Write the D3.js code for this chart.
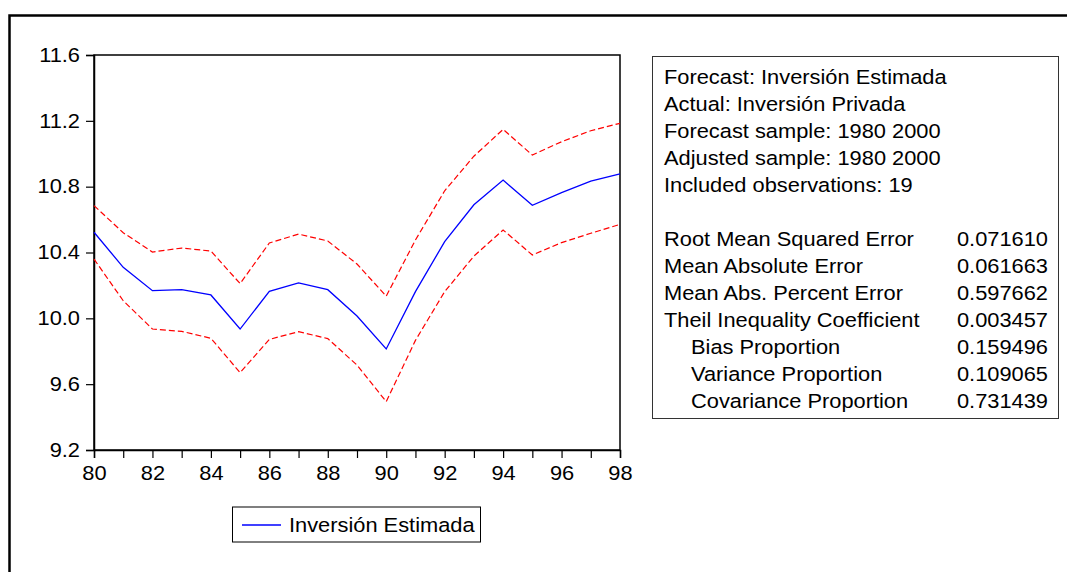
<!DOCTYPE html>
<html>
<head>
<meta charset="utf-8">
<script src="https://cdn.jsdelivr.net/npm/d3@7"></script>
<style>
  html, body { margin: 0; padding: 0; background: #fff; }
  svg { display: block; font-family: "Liberation Sans", Arial, sans-serif; }
</style>
</head>
<body>
<svg id="chart" width="1067" height="572"></svg>
<script>
// Years (two-digit labels) of the forecast sample
const years = [80, 81, 82, 83, 84, 85, 86, 87, 88, 89, 90, 91, 92, 93, 94, 95, 96, 97, 98];
// Forecast of private investment (log level)
const forecast = [10.523, 10.31, 10.168, 10.174, 10.142, 9.935, 10.164, 10.215, 10.174, 10.014,
                  9.814, 10.162, 10.466, 10.69, 10.84, 10.687, 10.764, 10.833, 10.878];
// Upper and lower ±2 S.E. bands
const upperBand = [10.685, 10.52, 10.403, 10.427, 10.409, 10.211, 10.458, 10.512, 10.47, 10.33,
                   10.135, 10.476, 10.775, 10.985, 11.148, 10.992, 11.073, 11.14, 11.185];
const lowerBand = [10.36, 10.107, 9.935, 9.921, 9.879, 9.67, 9.872, 9.919, 9.877, 9.716,
                   9.494, 9.866, 10.162, 10.378, 10.537, 10.385, 10.46, 10.517, 10.571];
const yTicks = [9.2, 9.6, 10.0, 10.4, 10.8, 11.2, 11.6];
const xLabelTicks = [80, 82, 84, 86, 88, 90, 92, 94, 96, 98];

// Forecast evaluation summary
const infoLines = [
  "Forecast: Inversión Estimada",
  "Actual: Inversión Privada",
  "Forecast sample: 1980 2000",
  "Adjusted sample: 1980 2000",
  "Included observations: 19"
];
const statNames = [
  "Root Mean Squared Error",
  "Mean Absolute Error",
  "Mean Abs. Percent Error",
  "Theil Inequality Coefficient",
  "Bias Proportion",
  "Variance Proportion",
  "Covariance Proportion"
];
const statValues = ["0.071610", "0.061663", "0.597662", "0.003457", "0.159496", "0.109065", "0.731439"];
const statIndent = [false, false, false, false, true, true, true];
const legendLabel = "Inversión Estimada";

// Text is set slightly wide: normal height, stretched horizontally
const FS = 19.5;
const SX = 1.12;

const svg = d3.select("#chart");

// Place a wide-set text item with its anchor at (px, py)
function wideText(sel, px, py) {
  return sel.attr("x", 0).attr("y", 0)
    .attr("transform", (d, i) => `translate(${typeof px === "function" ? px(d, i) : px},${typeof py === "function" ? py(d, i) : py}) scale(${SX},1)`)
    .attr("font-size", FS).attr("fill", "#000");
}

// Outer frame (thick, running off the right and bottom edges)
svg.append("path")
  .attr("d", "M9.5,600 L9.5,15.5 L1080,15.5")
  .attr("fill", "none")
  .attr("stroke", "#000")
  .attr("stroke-width", 2.5);

const plot = { left: 94, right: 620, top: 55, bottom: 450 };

const x = d3.scaleLinear().domain([80, 98]).range([plot.left, plot.right]);
const y = d3.scaleLinear().domain([9.2, 11.6]).range([plot.bottom, plot.top]);

// Plot frame
svg.append("rect")
  .attr("x", plot.left).attr("y", plot.top)
  .attr("width", plot.right - plot.left).attr("height", plot.bottom - plot.top)
  .attr("fill", "none").attr("stroke", "#000").attr("stroke-width", 1.5);

// Y axis
const yAxis = svg.append("g")
  .attr("transform", `translate(${plot.left},0)`)
  .call(d3.axisLeft(y).tickValues(yTicks).tickFormat(d3.format(".1f")).tickSize(8).tickPadding(6));
yAxis.select(".domain").attr("stroke-width", 1.5);
yAxis.selectAll(".tick line").attr("stroke-width", 1.2);
yAxis.selectAll(".tick text")
  .attr("transform", `translate(-14,0) scale(${SX},1)`).attr("x", 0)
  .attr("font-size", FS).attr("fill", "#000")
  .attr("font-family", "Liberation Sans, Arial, sans-serif");

// X axis: every year ticked, even years labelled
const xAxis = svg.append("g")
  .attr("transform", `translate(0,${plot.bottom})`)
  .call(d3.axisBottom(x).tickValues(years)
    .tickFormat(d => xLabelTicks.includes(d) ? String(d) : "")
    .tickSize(8).tickPadding(8));
xAxis.select(".domain").attr("stroke-width", 1.5);
xAxis.selectAll(".tick line").attr("stroke-width", 1.2);
xAxis.selectAll(".tick text")
  .attr("transform", `scale(${SX},1)`)
  .attr("font-size", FS).attr("fill", "#000")
  .attr("font-family", "Liberation Sans, Arial, sans-serif");

// Series
const lineGen = d3.line().x((d, i) => x(years[i])).y(d => y(d));

svg.append("path").datum(upperBand)
  .attr("d", lineGen).attr("fill", "none")
  .attr("stroke", "#ff0000").attr("stroke-width", 1.2).attr("stroke-dasharray", "6,3");
svg.append("path").datum(lowerBand)
  .attr("d", lineGen).attr("fill", "none")
  .attr("stroke", "#ff0000").attr("stroke-width", 1.2).attr("stroke-dasharray", "6,3");
svg.append("path").datum(forecast)
  .attr("d", lineGen).attr("fill", "none")
  .attr("stroke", "#0000ff").attr("stroke-width", 1.3);

// Legend
const legend = svg.append("g");
legend.append("rect")
  .attr("x", 232.5).attr("y", 507).attr("width", 248).attr("height", 35)
  .attr("fill", "#fff").attr("stroke", "#000").attr("stroke-width", 1);
legend.append("line")
  .attr("x1", 242).attr("x2", 281).attr("y1", 525).attr("y2", 525)
  .attr("stroke", "#0000ff").attr("stroke-width", 1.3);
wideText(legend.append("text"), 289, 532).text(legendLabel);

// Statistics box
const box = svg.append("g");
box.append("rect")
  .attr("x", 652.5).attr("y", 56.5).attr("width", 406).attr("height", 362)
  .attr("fill", "#fff").attr("stroke", "#333").attr("stroke-width", 1);

const lineStep = 27;
wideText(box.selectAll("text.info").data(infoLines).join("text").attr("class", "info"),
  664, (d, i) => 83.5 + i * lineStep).text(d => d);

wideText(box.selectAll("text.sname").data(statNames).join("text").attr("class", "sname"),
  (d, i) => statIndent[i] ? 691 : 664, (d, i) => 246 + i * lineStep).text(d => d);

wideText(box.selectAll("text.sval").data(statValues).join("text").attr("class", "sval"),
  1048, (d, i) => 246 + i * lineStep)
  .attr("text-anchor", "end").text(d => d);
</script>
</body>
</html>
